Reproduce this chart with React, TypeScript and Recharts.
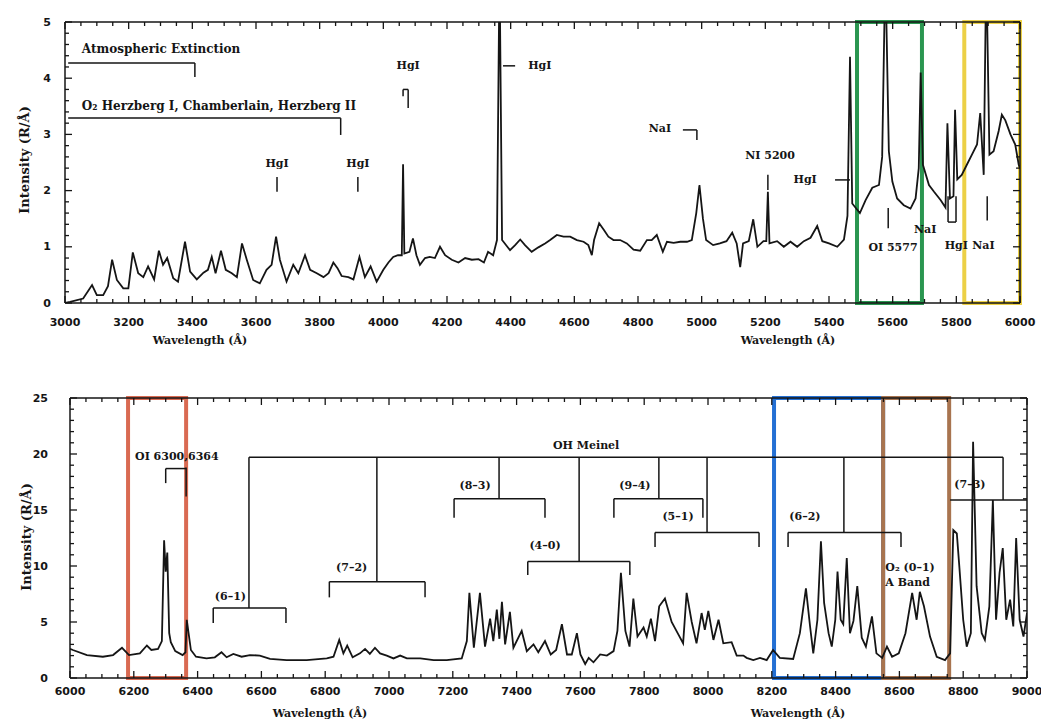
import React from "react";
import { LineChart, Line, XAxis, YAxis, ReferenceArea, ReferenceLine, ReferenceDot } from "recharts";

// upper panel: 3000-6000 A
const topWavelength = [
  3000, 3016, 3057, 3085, 3100, 3120, 3135, 3148, 3163, 3183, 3199, 3213, 3230, 3246, 3261, 3280, 3295, 3308, 3321, 3340,
  3355, 3377, 3393, 3414, 3435, 3449, 3461, 3473, 3490, 3505, 3524, 3540, 3556, 3571, 3591, 3612, 3633, 3649, 3663, 3675,
  3696, 3717, 3733, 3754, 3770, 3791, 3812, 3828, 3843, 3856, 3869, 3890, 3906, 3925, 3942, 3960, 3979, 4000, 4016, 4031,
  4046, 4058, 4062, 4066, 4082, 4093, 4104, 4115, 4131, 4146, 4162, 4178, 4194, 4215, 4236, 4257, 4278, 4299, 4316, 4329,
  4345, 4357, 4365, 4373, 4398, 4414, 4430, 4445, 4466, 4487, 4508, 4524, 4545, 4566, 4587, 4608, 4629, 4644, 4655, 4662,
  4678, 4693, 4707, 4723, 4744, 4765, 4786, 4807, 4828, 4843, 4859, 4878, 4891, 4912, 4933, 4954, 4969, 4983, 4993, 5004,
  5014, 5036, 5057, 5078, 5096, 5110, 5121, 5130, 5148, 5162, 5175, 5194, 5203, 5208, 5213, 5237, 5258, 5279, 5300, 5321,
  5342, 5363, 5379, 5400, 5426, 5447, 5458, 5466, 5473, 5483, 5497, 5515, 5536, 5557, 5567, 5577, 5588, 5599, 5614, 5635,
  5656, 5672, 5682, 5688, 5695, 5714, 5730, 5751, 5766, 5772, 5780, 5791, 5796, 5803, 5817, 5833, 5849, 5865, 5875, 5886,
  5894, 5904, 5917, 5933, 5943, 5954, 5970, 5985, 5996, 6000,
];
const topIntensity = [
  0, 0.02, 0.08, 0.32, 0.14, 0.14, 0.3, 0.77, 0.41, 0.26, 0.26, 0.9, 0.53, 0.46, 0.65, 0.42, 0.93, 0.68, 0.8, 0.44,
  0.38, 1.09, 0.56, 0.42, 0.54, 0.59, 0.82, 0.53, 0.93, 0.59, 0.53, 0.46, 1.06, 0.77, 0.41, 0.35, 0.59, 0.68, 1.18, 0.77,
  0.38, 0.68, 0.53, 0.85, 0.59, 0.53, 0.46, 0.53, 0.72, 0.62, 0.48, 0.46, 0.42, 0.82, 0.46, 0.65, 0.38, 0.59, 0.72, 0.82,
  0.85, 0.85, 2.47, 0.88, 0.91, 1.15, 0.85, 0.68, 0.8, 0.82, 0.8, 1.0, 0.85, 0.77, 0.72, 0.8, 0.77, 0.78, 0.72, 0.91,
  0.85, 1.12, 6, 1.12, 0.94, 1.03, 1.13, 1.03, 0.91, 0.99, 1.06, 1.12, 1.21, 1.18, 1.18, 1.12, 1.09, 1.03, 0.85, 1.12,
  1.42, 1.3, 1.18, 1.12, 1.12, 1.06, 0.95, 0.93, 1.12, 1.12, 1.21, 0.91, 1.09, 1.07, 1.09, 1.09, 1.12, 1.6, 2.1, 1.5,
  1.12, 1.03, 1.06, 1.1, 1.25, 1.06, 0.64, 1.06, 1.1, 1.49, 1.0, 1.1, 1.1, 1.98, 1.06, 1.1, 1.0, 1.09, 1.0, 1.1,
  1.16, 1.37, 1.1, 1.06, 1.0, 1.13, 1.55, 4.38, 1.77, 1.7, 1.6, 1.83, 2.05, 2.1, 2.6, 6, 2.7, 2.16, 1.86, 1.74,
  1.68, 1.86, 2.4, 4.1, 2.46, 2.1, 1.98, 1.83, 1.7, 3.2, 1.86, 1.9, 3.44, 2.2, 2.28, 2.46, 2.64, 2.82, 3.38, 2.28,
  6, 2.64, 2.7, 3.06, 3.35, 3.25, 3.0, 2.82, 2.46, 2.4,
];

// lower panel: 6000-9000 A
const bottomWavelength = [
  6000, 6009, 6053, 6103, 6135, 6163, 6185, 6219, 6241, 6255, 6276, 6288, 6295, 6300, 6305, 6311, 6316, 6330, 6353, 6362,
  6366, 6379, 6395, 6428, 6454, 6475, 6491, 6512, 6538, 6564, 6595, 6627, 6679, 6742, 6805, 6826, 6844, 6857, 6869, 6886,
  6909, 6925, 6940, 6956, 6972, 6993, 7014, 7035, 7056, 7098, 7140, 7181, 7228, 7244, 7252, 7266, 7285, 7301, 7317, 7327,
  7338, 7346, 7354, 7364, 7379, 7390, 7416, 7432, 7453, 7468, 7489, 7507, 7524, 7542, 7558, 7573, 7589, 7600, 7615, 7626,
  7641, 7662, 7683, 7704, 7716, 7727, 7741, 7754, 7766, 7779, 7798, 7808, 7821, 7834, 7847, 7865, 7886, 7907, 7922, 7933,
  7949, 7964, 7980, 7990, 8001, 8017, 8033, 8048, 8074, 8090, 8111, 8121, 8142, 8163, 8184, 8204, 8225, 8267, 8288, 8307,
  8320, 8330, 8343, 8354, 8364, 8378, 8388, 8399, 8406, 8416, 8424, 8435, 8445, 8456, 8468, 8482, 8495, 8514, 8528, 8546,
  8561, 8577, 8598, 8619, 8640, 8654, 8664, 8677, 8696, 8717, 8743, 8759, 8769, 8780, 8788, 8800, 8811, 8824, 8831, 8842,
  8858, 8868, 8882, 8893, 8903, 8914, 8924, 8935, 8947, 8957, 8966, 8977, 8989, 9000,
];
const bottomIntensity = [
  2.6, 2.5, 2.05, 1.9, 2.05, 2.7, 2.05, 2.2, 2.9, 2.5, 2.6, 3.3, 12.3, 9.5, 11.2, 4.0, 3.2, 2.4, 2.05, 2.3,
  5.2, 2.5, 1.9, 1.75, 1.85, 2.3, 1.85, 2.15, 1.9, 2.05, 2.0, 1.7, 1.6, 1.6, 1.75, 1.9, 3.4, 2.2, 2.9, 1.85,
  2.2, 2.6, 2.15, 2.7, 2.2, 2.0, 1.75, 2.0, 1.75, 1.75, 1.6, 1.6, 1.75, 3.3, 7.6, 2.7, 7.6, 2.8, 5.3, 3.3,
  6.1, 3.5, 6.8, 3.0, 5.9, 2.7, 4.2, 2.4, 3.0, 2.3, 3.3, 2.1, 2.5, 4.8, 2.1, 2.1, 4.0, 2.1, 1.25, 1.8,
  1.4, 2.1, 2.0, 2.4, 4.2, 9.4, 4.2, 2.8, 7.1, 3.7, 4.5, 3.7, 5.3, 3.3, 6.4, 7.1, 5.0, 3.9, 3.1, 7.6,
  5.0, 3.1, 5.8, 4.3, 6.0, 3.4, 5.2, 3.1, 3.2, 2.0, 2.0, 1.8, 1.6, 1.8, 1.6, 2.5, 1.8, 1.7, 4.0, 8.0,
  4.6, 2.2, 5.2, 12.2, 6.7, 4.0, 2.8, 5.2, 9.5, 5.2, 4.8, 10.7, 4.0, 5.1, 8.2, 3.6, 2.8, 5.5, 2.2, 1.8,
  2.8, 1.9, 2.2, 4.0, 7.6, 5.2, 7.7, 6.4, 3.7, 1.9, 1.6, 2.2, 13.2, 12.9, 9.9, 5.2, 2.8, 4.0, 21.1, 8.2,
  4.0, 3.4, 6.4, 15.9, 5.2, 9.4, 11.6, 5.2, 7.0, 4.6, 12.5, 5.2, 3.7, 5.8,
];

const topXLabels = [3000, 3200, 3400, 3600, 3800, 4000, 4200, 4400, 4600, 4800, 5000, 5200, 5400, 5600, 5800, 6000];
const topYLabels = [0, 1, 2, 3, 4, 5];
const bottomXLabels = [6000, 6200, 6400, 6600, 6800, 7000, 7200, 7400, 7600, 7800, 8000, 8200, 8400, 8600, 8800, 9000];
const bottomYLabels = [0, 5, 10, 15, 20, 25];

// highlight boxes
const topBoxes = [
  { x1: 5488, x2: 5692, color: "#2a9650" },
  { x1: 5825, x2: 6000, color: "#ecd046" },
];
const bottomBoxes = [
  { x1: 6182, x2: 6364, color: "#d96a52" },
  { x1: 8207, x2: 8549, color: "#2470d4" },
  { x1: 8549, x2: 8756, color: "#a8744f" },
];

// line identifications: [x1, y1, x2, y2]
const topMarks = [
  [3010, 4.27, 3408, 4.27], [3408, 4.27, 3408, 4.02],
  [3010, 3.29, 3866, 3.29], [3866, 3.29, 3866, 2.99],
  [3666, 2.24, 3666, 1.98], [3920, 2.24, 3920, 1.98],
  [4062, 3.8, 4078, 3.8], [4062, 3.8, 4062, 3.68], [4078, 3.8, 4078, 3.47],
  [4376, 4.22, 4414, 4.22],
  [4941, 3.08, 4985, 3.08], [4985, 3.08, 4985, 2.9],
  [5208, 2.28, 5208, 2.01],
  [5419, 2.19, 5466, 2.19],
  [5586, 1.69, 5586, 1.33],
  [5774, 1.9, 5774, 1.44], [5774, 1.44, 5799, 1.44], [5799, 1.44, 5799, 1.9],
  [5897, 1.9, 5897, 1.47],
];
const topNotes = [
  { text: "Atmospheric Extinction", x: 3053, y: 4.52, anchor: "start", size: 12 },
  { text: "O₂ Herzberg I, Chamberlain,  Herzberg II", x: 3053, y: 3.5, anchor: "start", size: 12 },
  { text: "HgI", x: 3666, y: 2.49, anchor: "middle", size: 11 },
  { text: "HgI", x: 3920, y: 2.49, anchor: "middle", size: 11 },
  { text: "HgI", x: 4078, y: 4.23, anchor: "middle", size: 11 },
  { text: "HgI", x: 4455, y: 4.22, anchor: "start", size: 11 },
  { text: "NaI", x: 4869, y: 3.1, anchor: "middle", size: 11 },
  { text: "NI 5200", x: 5215, y: 2.63, anchor: "middle", size: 11 },
  { text: "HgI", x: 5325, y: 2.19, anchor: "middle", size: 11 },
  { text: "OI 5577", x: 5601, y: 0.98, anchor: "middle", size: 11 },
  { text: "NaI", x: 5702, y: 1.3, anchor: "middle", size: 11 },
  { text: "HgI", x: 5800, y: 1.03, anchor: "middle", size: 11 },
  { text: "NaI", x: 5885, y: 1.03, anchor: "middle", size: 11 },
];

// OH Meinel bands: bracket from..to at level, stem up to the main bar
const ohTop = 19.7;
const ohBands = [
  { label: "(6–1)", from: 6449, to: 6677, level: 6.25, drop: 1.35, stem: 6561, lx: 6503, ly: 7.3 },
  { label: "(7–2)", from: 6813, to: 7113, level: 8.6, drop: 1.4, stem: 6962, lx: 6883, ly: 9.9 },
  { label: "(8–3)", from: 7204, to: 7489, level: 16.0, drop: 1.7, stem: 7345, lx: 7270, ly: 17.2 },
  { label: "(4–0)", from: 7435, to: 7755, level: 10.4, drop: 1.2, stem: 7596, lx: 7489, ly: 11.8 },
  { label: "(9–4)", from: 7705, to: 7984, level: 16.0, drop: 1.7, stem: 7846, lx: 7771, ly: 17.2 },
  { label: "(5–1)", from: 7834, to: 8160, level: 13.0, drop: 1.3, stem: 7997, lx: 7906, ly: 14.4 },
  { label: "(6–2)", from: 8251, to: 8605, level: 13.0, drop: 1.3, stem: 8426, lx: 8304, ly: 14.4 },
  { label: "(7–3)", from: 8759, to: 9000, level: 15.9, drop: 0, stem: 8925, lx: 8821, ly: 17.3 },
];
const bottomMarks = [
  [6300, 18.7, 6364, 18.7], [6300, 18.7, 6300, 17.4], [6364, 18.8, 6364, 16.2],
  [6561, ohTop, 8925, ohTop],
];
const bottomNotes = [
  { text: "OI 6300,6364", x: 6335, y: 19.75, anchor: "middle", size: 11 },
  { text: "OH Meinel", x: 7618, y: 20.8, anchor: "middle", size: 11 },
  { text: "O₂ (0–1)", x: 8556, y: 9.9, anchor: "start", size: 11 },
  { text: "A Band", x: 8556, y: 8.5, anchor: "start", size: 11 },
];

const topData = topWavelength.map((w, i) => ({ w, v: topIntensity[i] }));
const bottomData = bottomWavelength.map((w, i) => ({ w, v: bottomIntensity[i] }));

const serif = "'DejaVu Serif', serif";
const sans = "'DejaVu Sans', sans-serif";
const ink = "#151515";

const steps = (a: number, b: number, s: number) =>
  Array.from({ length: Math.round((b - a) / s) + 1 }, (_, i) => Math.round((a + i * s) * 100) / 100);

function xTick(labels: number[], side: "bottom" | "top", dy: number) {
  return (p: any) => {
    const v = p.payload.value;
    const major = labels.includes(v);
    const len = major ? 7 : 4;
    const dir = side === "bottom" ? -1 : 1;
    return (
      <g>
        <line x1={p.x} y1={p.y} x2={p.x} y2={p.y + dir * len} stroke={ink} strokeWidth={1.3} />
        {side === "bottom" && major && (
          <text x={p.x} y={p.y + dy} textAnchor="middle" dominantBaseline="central" fontFamily={sans} fontWeight="bold" fontSize={11} fill={ink}>
            {v}
          </text>
        )}
      </g>
    );
  };
}

function yTick(labels: number[], side: "left" | "right", dx: number) {
  return (p: any) => {
    const v = p.payload.value;
    const major = labels.includes(v);
    const len = major ? 7 : 4;
    const dir = side === "left" ? 1 : -1;
    return (
      <g>
        <line x1={p.x} y1={p.y} x2={p.x + dir * len} y2={p.y} stroke={ink} strokeWidth={1.3} />
        {side === "left" && major && (
          <text x={p.x - dx} y={p.y} textAnchor="end" dominantBaseline="central" fontFamily={sans} fontWeight="bold" fontSize={11} fill={ink}>
            {v}
          </text>
        )}
      </g>
    );
  };
}

const noteShape = (n: any) => (p: any) => (
  <text x={p.cx} y={p.cy} textAnchor={n.anchor} dominantBaseline="central" fontFamily={serif} fontWeight="bold" fontSize={n.size} fill={ink}>
    {n.text}
  </text>
);

function Panel(props: {
  data: any[];
  width: number;
  height: number;
  margin: any;
  xDomain: [number, number];
  yDomain: [number, number];
  xLabels: number[];
  yLabels: number[];
  xMinor: number[];
  yMinor: number[];
  yDx: number;
  xDy: number;
  boxes: any[];
  marks: number[][];
  notes: any[];
}) {
  const { data, xDomain, yDomain } = props;
  const axisLine = { stroke: ink, strokeWidth: 1.5 };
  return (
    <LineChart width={props.width} height={props.height} data={data} margin={props.margin}>
      <XAxis dataKey="w" type="number" domain={xDomain} ticks={props.xMinor} interval={0} height={1}
        tickSize={0} tickMargin={0} tickLine={false} axisLine={axisLine}
        tick={xTick(props.xLabels, "bottom", props.xDy)} allowDataOverflow />
      <XAxis xAxisId="top" orientation="top" dataKey="w" type="number" domain={xDomain} ticks={props.xMinor} interval={0} height={1}
        tickSize={0} tickMargin={0} tickLine={false} axisLine={axisLine}
        tick={xTick(props.xLabels, "top", 0)} allowDataOverflow />
      <YAxis type="number" domain={yDomain} ticks={props.yMinor} interval={0} width={1}
        tickSize={0} tickMargin={0} tickLine={false} axisLine={axisLine}
        tick={yTick(props.yLabels, "left", props.yDx)} allowDataOverflow />
      <YAxis yAxisId="right" orientation="right" type="number" domain={yDomain} ticks={props.yMinor} interval={0} width={1}
        tickSize={0} tickMargin={0} tickLine={false} axisLine={axisLine}
        tick={yTick(props.yLabels, "right", 0)} allowDataOverflow />
      <Line dataKey="v" type="linear" stroke={ink} strokeWidth={1.8} dot={false} isAnimationActive={false} />
      {props.marks.map((s, i) => (
        <ReferenceLine key={"m" + i} segment={[{ x: s[0], y: s[1] }, { x: s[2], y: s[3] }]} stroke={ink} strokeWidth={1.5} ifOverflow="visible" />
      ))}
      {props.notes.map((n, i) => (
        <ReferenceDot key={"n" + i} x={n.x} y={n.y} r={0} ifOverflow="visible" shape={noteShape(n)} />
      ))}
      {props.boxes.map((b, i) => (
        <ReferenceArea key={"b" + i} x1={b.x1} x2={b.x2} y1={yDomain[0]} y2={yDomain[1]} fill="none" stroke={b.color} strokeWidth={4} ifOverflow="visible" />
      ))}
    </LineChart>
  );
}

export default function App() {
  const ohMarks: number[][] = [];
  const ohNotes: any[] = [];
  ohBands.forEach((b) => {
    ohMarks.push([b.stem, ohTop, b.stem, b.level]);
    ohMarks.push([b.from, b.level, b.to, b.level]);
    if (b.drop > 0) {
      ohMarks.push([b.from, b.level, b.from, b.level - b.drop]);
      ohMarks.push([b.to, b.level, b.to, b.level - b.drop]);
    }
    ohNotes.push({ text: b.label, x: b.lx, y: b.ly, anchor: "middle", size: 11 });
  });

  const titleStyle = { fontFamily: serif, fontWeight: "bold" as const, fill: ink };

  return (
    <div style={{ position: "absolute", left: 0, top: 0, width: 1041, height: 723, background: "#fff" }}>
      <div style={{ position: "absolute", left: 0, top: 0 }}>
        <Panel
          data={topData}
          width={1041}
          height={360}
          margin={{ top: 21, right: 20, bottom: 56, left: 64 }}
          xDomain={[3000, 6000]}
          yDomain={[0, 5]}
          xLabels={topXLabels}
          yLabels={topYLabels}
          xMinor={steps(3000, 6000, 50)}
          yMinor={steps(0, 5, 0.2)}
          yDx={14}
          xDy={19}
          boxes={topBoxes}
          marks={topMarks}
          notes={topNotes}
        />
      </div>
      <div style={{ position: "absolute", left: 0, top: 360 }}>
        <Panel
          data={bottomData}
          width={1041}
          height={363}
          margin={{ top: 37, right: 13, bottom: 44, left: 69 }}
          xDomain={[6000, 9000]}
          yDomain={[0, 25]}
          xLabels={bottomXLabels}
          yLabels={bottomYLabels}
          xMinor={steps(6000, 9000, 50)}
          yMinor={steps(0, 25, 1)}
          yDx={22}
          xDy={13}
          boxes={bottomBoxes}
          marks={[...bottomMarks, ...ohMarks]}
          notes={[...bottomNotes, ...ohNotes]}
        />
      </div>
      <svg width={1041} height={723} style={{ position: "absolute", left: 0, top: 0, pointerEvents: "none" }}>
        <text x={24} y={160} transform="rotate(-90 24 160)" textAnchor="middle" dominantBaseline="central" fontSize={13} {...titleStyle}>
          Intensity (R/Å)
        </text>
        <text x={26} y={537} transform="rotate(-90 26 537)" textAnchor="middle" dominantBaseline="central" fontSize={13} {...titleStyle}>
          Intensity (R/Å)
        </text>
        <text x={200} y={340} textAnchor="middle" dominantBaseline="central" fontSize={11} {...titleStyle}>Wavelength (Å)</text>
        <text x={788} y={340} textAnchor="middle" dominantBaseline="central" fontSize={11} {...titleStyle}>Wavelength (Å)</text>
        <text x={320} y={713} textAnchor="middle" dominantBaseline="central" fontSize={11} {...titleStyle}>Wavelength (Å)</text>
        <text x={798} y={713} textAnchor="middle" dominantBaseline="central" fontSize={11} {...titleStyle}>Wavelength (Å)</text>
      </svg>
    </div>
  );
}
